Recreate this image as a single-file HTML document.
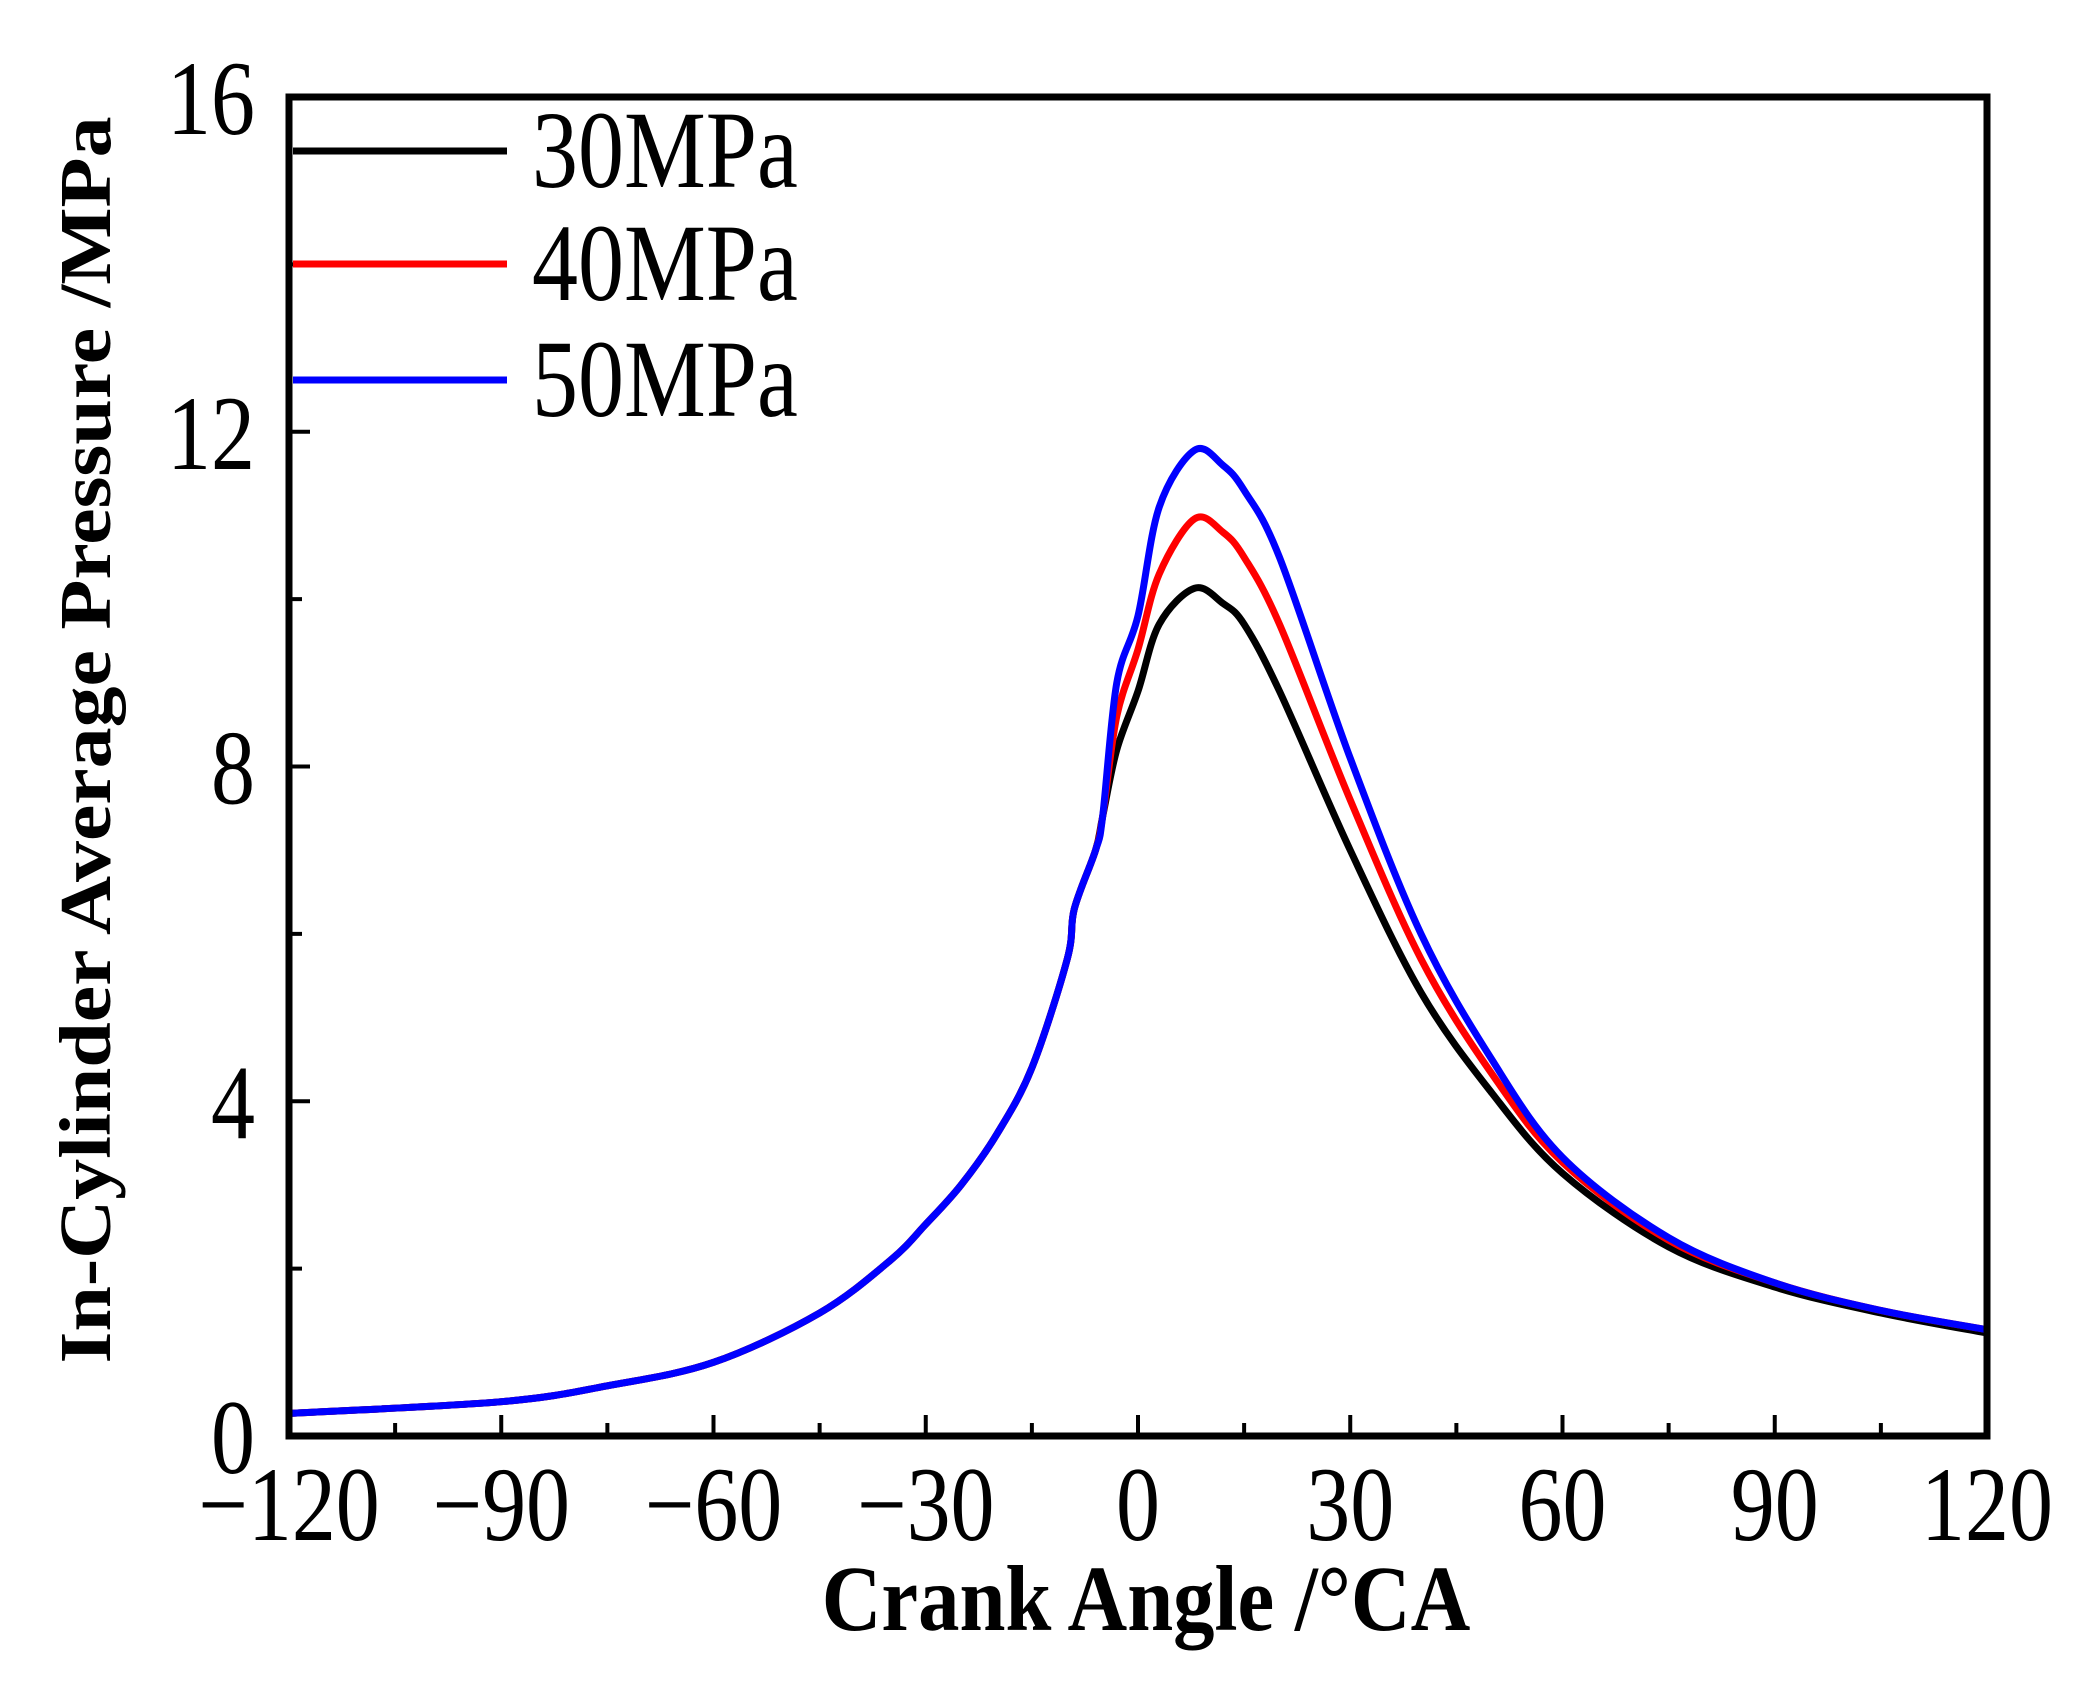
<!DOCTYPE html>
<html><head><meta charset="utf-8">
<style>
html,body{margin:0;padding:0;background:#fff;}
svg{display:block;}
text{font-family:"Liberation Serif",serif;fill:#000;}
</style></head>
<body>
<svg id="chart" width="2090" height="1702" viewBox="0 0 2090 1702">
<g id="ticks"></g>
<g id="series"></g>
<rect x="289" y="97" width="1698" height="1339" fill="none" stroke="#000" stroke-width="7"/>
<g id="legend"></g>
<text transform="translate(1146,1630) scale(1.06,1.2)" font-size="78" font-weight="bold" text-anchor="middle">Crank Angle /°CA</text>
<text transform="translate(110,740) rotate(-90) scale(1.17,1.05)" font-size="70" font-weight="bold" text-anchor="middle">In-Cylinder Average Pressure /MPa</text>
</svg>
<script>
const xTicks=[-120,-90,-60,-30,0,30,60,90,120];
const yTicks=[0,4,8,12,16];
const seriesNames=["30MPa","40MPa","50MPa"];
const seriesColors=["#000000","#ff0000","#0000ff"];
const angles=[-120,-90,-75,-60,-45,-35,-30,-25,-20,-15,-10,-9,-6,-5,-3,0,3,8,12,15,20,30,40,50,60,75,90,105,120];
const p30=[0.27,0.41,0.6,0.88,1.47,2.1,2.53,3.0,3.6,4.4,5.7,6.3,7.0,7.4,8.2,8.9,9.7,10.13,9.95,9.7,8.9,7.0,5.3,4.1,3.14,2.26,1.78,1.47,1.23];
const p40=[0.27,0.41,0.6,0.88,1.47,2.1,2.53,3.0,3.6,4.4,5.7,6.3,7.0,7.4,8.6,9.4,10.3,10.96,10.8,10.5,9.7,7.6,5.7,4.33,3.27,2.34,1.83,1.5,1.27];
const p50=[0.27,0.41,0.6,0.88,1.47,2.1,2.53,3.0,3.6,4.4,5.7,6.3,7.0,7.4,9.0,9.8,11.1,11.78,11.6,11.3,10.5,8.1,6.0,4.5,3.33,2.37,1.83,1.5,1.27];
const allSeries=[p30,p40,p50];

const NS="http://www.w3.org/2000/svg";
const L=289,R=1987,T=97,B=1436;
const sx=v=>L+(v+120)/240*(R-L);
const sy=v=>B-v/16*(B-T);
function mk(tag,attrs,parent){const e=document.createElementNS(NS,tag);for(const k in attrs)e.setAttribute(k,attrs[k]);parent.appendChild(e);return e;}
const tg=document.getElementById('ticks');
for(let i=0;i<xTicks.length;i++){
  const x=sx(xTicks[i]);
  const t=mk('line',{x1:x,x2:x,y1:B,y2:B-21,stroke:'#000','stroke-width':4},tg);
  
  
  if(i<xTicks.length-1){const xm=sx(xTicks[i]+15);
    const m=mk('line',{x1:xm,x2:xm,y1:B,y2:B-13,stroke:'#000','stroke-width':4},tg);
    
    }
  const lb=mk('text',{transform:'translate('+x+',1540) scale(1,1.2)','font-size':88,'text-anchor':'middle'},tg);
  lb.textContent=xTicks[i]<0?'\u2212'+(-xTicks[i]):String(xTicks[i]);
  
  
}
for(let i=0;i<yTicks.length;i++){
  const y=sy(yTicks[i]);
  const t=mk('line',{x1:L,x2:L+21,y1:y,y2:y,stroke:'#000','stroke-width':4},tg);
  
  
  if(i<yTicks.length-1){const ym=sy(yTicks[i]+2);
    const m=mk('line',{x1:L,x2:L+13,y1:ym,y2:ym,stroke:'#000','stroke-width':4},tg);
    
    }
  const lb=mk('text',{transform:'translate(255,'+(y+37)+') scale(1,1.2)','font-size':88,'text-anchor':'end'},tg);
  lb.textContent=String(yTicks[i]);
  
  
}
function pathFor(vals){
  const pts=angles.map((a,i)=>[sx(a),sy(vals[i])]);
  let d='M'+pts[0][0]+','+pts[0][1];
  for(let i=0;i<pts.length-1;i++){
    const p0=pts[Math.max(0,i-1)],p1=pts[i],p2=pts[i+1],p3=pts[Math.min(pts.length-1,i+2)];
    const c1=[p1[0]+(p2[0]-p0[0])/6,p1[1]+(p2[1]-p0[1])/6];
    const c2=[p2[0]-(p3[0]-p1[0])/6,p2[1]-(p3[1]-p1[1])/6];
    d+=' C'+c1[0]+','+c1[1]+' '+c2[0]+','+c2[1]+' '+p2[0]+','+p2[1];
  }
  return d;
}
const sg=document.getElementById('series');
const lg=document.getElementById('legend');
const legY=[151,264,380];
for(let s=0;s<allSeries.length;s++){
  const p=mk('path',{d:pathFor(allSeries[s]),fill:'none',stroke:seriesColors[s],'stroke-width':7,'stroke-linejoin':'round'},sg);
  
  
  const ln=mk('line',{x1:293,x2:507,y1:legY[s],y2:legY[s],stroke:seriesColors[s],'stroke-width':7},lg);
  
  
  const tx=mk('text',{transform:'translate(532,'+(legY[s]+36)+') scale(1,1.2)','font-size':92},lg);
  tx.textContent=seriesNames[s];
  
  
}
</script>
</body></html>
